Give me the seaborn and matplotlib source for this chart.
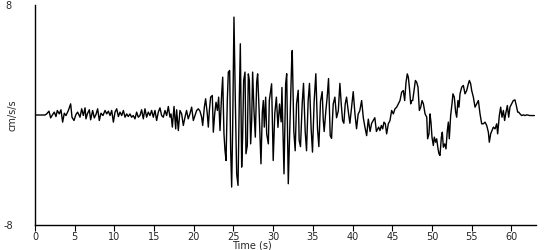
import matplotlib
matplotlib.use("Agg")
import matplotlib.pyplot as plt
import seaborn as sns
import pandas as pd

time_s = [
    0.00, 1.26, 1.47, 1.76, 1.97, 2.23, 2.43, 2.64, 2.81, 3.06, 3.27, 3.48, 3.69, 3.90,
    4.20, 4.49, 4.66, 4.91, 5.16, 5.37, 5.67, 5.88, 6.09, 6.30, 6.42, 6.59, 6.84, 7.01,
    7.26, 7.47, 7.68, 7.89, 8.10, 8.31, 8.56, 8.82, 9.03, 9.24, 9.45, 9.66, 9.87, 10.08,
    10.29, 10.50, 10.71, 10.92, 11.13, 11.34, 11.55, 11.75, 11.96, 12.17, 12.38, 12.59,
    12.80, 13.01, 13.22, 13.43, 13.64, 13.85, 14.06, 14.27, 14.48, 14.69, 14.90, 15.11,
    15.32, 15.53, 15.74, 15.95, 16.16, 16.37, 16.58, 16.79, 17.00, 17.13, 17.30, 17.51,
    17.72, 17.84, 18.05, 18.26,
    18.47, 18.68, 18.89, 19.09, 19.30, 19.51, 19.73, 19.94, 20.15, 20.36, 20.57, 20.78,
    20.99, 21.12, 21.33, 21.49, 21.70, 21.83, 21.96, 22.12, 22.33, 22.46, 22.63, 22.80,
    22.97, 23.13, 23.30, 23.51, 23.64, 23.80, 23.93, 24.06, 24.22, 24.35, 24.52, 24.64,
    24.77, 24.89, 25.06, 25.23, 25.40, 25.57, 25.73, 25.86, 26.03, 26.15, 26.28, 26.45,
    26.57, 26.74, 26.87, 27.00, 27.16, 27.29, 27.41, 27.58, 27.75, 27.92, 28.04, 28.21,
    28.34, 28.46, 28.63, 28.76, 28.88, 29.05, 29.18, 29.39, 29.51,
    29.80, 30.00, 30.20, 30.40, 30.60, 30.80, 31.00, 31.10, 31.36, 31.57, 31.70, 31.90,
    32.10, 32.33, 32.40, 32.60, 32.77, 32.94, 33.15, 33.27, 33.44, 33.65, 33.82, 34.03,
    34.20, 34.40, 34.57, 34.78, 34.95, 35.16, 35.37, 35.58, 35.75, 35.96, 36.17, 36.30,
    36.42, 36.63, 36.80, 36.97, 37.18, 37.35, 37.56, 37.77, 37.98, 38.20, 38.40, 38.57,
    38.74, 38.90, 39.07, 39.24, 39.45, 39.66, 39.87, 40.08, 40.30, 40.50, 40.70, 40.90,
    41.14, 41.35, 41.56, 41.77, 41.98, 42.20, 42.40, 42.60, 42.80, 43.00,
    43.28, 43.45, 43.62, 43.79, 43.95, 44.12, 44.29, 44.50, 44.71,
    44.92, 45.13, 45.34, 45.55, 45.76, 45.97, 46.18, 46.39, 46.56, 46.73, 46.89, 47.02,
    47.15, 47.32, 47.44, 47.57, 47.74, 47.91, 48.07, 48.24, 48.41, 48.58, 48.75, 48.92,
    49.13, 49.34, 49.45, 49.62, 49.75, 49.87, 50.00, 50.17, 50.29, 50.46, 50.59, 50.76,
    50.88, 51.01, 51.18, 51.30, 51.43, 51.60, 51.76, 51.93, 52.06, 52.18, 52.35, 52.52,
    52.64, 52.81, 52.98, 53.11, 53.27, 53.40, 53.53, 53.74, 53.95, 54.16, 54.37, 54.58,
    54.71, 54.87, 55.00, 55.21, 55.42, 55.63, 55.84, 56.05, 56.26, 56.47, 56.68, 56.89,
    57.10, 57.22, 57.39, 57.56, 57.73, 57.94, 58.15, 58.27, 58.48, 58.65, 58.82, 58.99,
    59.15, 59.28, 59.49, 59.66, 59.82, 60.03, 60.24, 60.45, 60.62, 60.79, 60.92, 61.09,
    61.30, 61.51, 61.72, 61.93, 62.34, 62.90,
]

accel_cms2 = [
    0.00, 0.00, 0.08, 0.28, -0.21, 0.04, 0.21, -0.11, 0.33, 0.08, 0.38, -0.52, 0.13, -0.04,
    0.33, 0.81, -0.16, -0.40, 0.04, 0.21, -0.16, 0.45, -0.04, 0.52, -0.28, 0.08, 0.38, -0.35,
    0.33, -0.21, 0.04, 0.45, -0.40, 0.13, -0.04, 0.33, 0.08, 0.28, -0.04, 0.33, -0.52, 0.21,
    0.45, -0.11, 0.21, -0.04, 0.33, -0.16, 0.08, -0.11, 0.08, -0.16, -0.04, -0.28,
    0.21, -0.16, -0.04, 0.38, -0.28, 0.45, -0.16, 0.21, -0.04, 0.33, -0.16, 0.33,
    -0.40, 0.21, 0.52, -0.04, -0.16, 0.33, -0.04, 0.62, -0.16, 0.08, -0.88, 0.62,
    -1.01, 0.38, -1.13, 0.33,
    0.08, -0.76, -0.16, 0.33, -0.28, 0.08, 0.57, -0.40, -0.04, 0.33, 0.45, 0.28,
    -0.16, -0.76, 0.57, 1.18, 0.08, -0.88, 0.33, 1.30, 1.42, -1.25, 0.08, 0.93,
    0.33, 1.30, -1.13, 1.54, 2.75, -1.37, -2.58, -3.31, 1.05, 3.12, 3.24, -2.46,
    -5.24, -1.13, 7.12, 1.05, -4.28, -5.12, 1.05, 5.18, -3.79, -1.61, 2.51, 3.12,
    -2.82, -2.22, 2.99, 2.51, -2.10, -0.40, 3.12, 0.33, -1.61, 2.39, 2.99, 0.57,
    -1.61, -3.55, 0.21, 1.05, -0.88, 1.30, -1.37, -2.10, 1.05,
    2.27, -3.31, 0.10, 1.30, -0.90, 0.80, -0.50, 2.00, -4.28, 2.27, 3.00, -5.00,
    -0.90, 3.96, 4.69, -1.20, -2.60, 0.80, 1.80, -1.85, -2.30, 0.80, 2.30, -1.20,
    -2.60, 1.00, 2.30, -1.00, -2.70, 1.00, 3.00, -1.00, -2.30, 1.00, 1.70, -0.30,
    -1.20, 0.30, 1.30, 2.65, -1.50, -1.70, 0.80, 1.30, -0.20, 0.30, 2.30, 0.80,
    -0.40, -0.60, 0.80, 1.30, 0.30, -0.60, 0.55, 1.70, 0.06, -1.00, 0.06, 0.30,
    1.05, -0.20, -0.90, -1.50, -0.30, -1.20, -0.60, -0.40, -0.20, -1.20,
    -0.88, -1.13, -0.76, -1.01, -0.52, -0.64, -1.37, -0.64, -0.40,
    0.33, 0.08, 0.45, 0.57, 0.81, 1.05, 1.66, 1.78, 1.05, 2.39, 2.99, 2.75,
    2.02, 0.81, 1.05, 1.05, 1.78, 2.51, 2.39, 2.02, 0.33, 0.57, 1.05, 0.81,
    0.08, -0.16, -1.73, -1.37, 0.08, -0.52, -1.61, -2.22, -1.61, -1.98, -1.73, -2.46,
    -2.82, -2.94, -1.61, -1.25, -2.34, -2.10, -2.46, -1.13, -0.52, -1.73, -0.04, 0.81,
    1.54, 1.30, 0.21, -0.16, 1.05, 0.57, 1.54, 2.02, 2.15, 1.54, 1.78, 2.27,
    2.51, 2.27, 1.78, 1.30, 0.57, 0.81, 1.05, 0.08, -0.64, -0.64, -0.52, -0.76,
    -1.25, -1.98, -1.37, -1.13, -0.88, -1.01, -0.64, -1.37, -0.04, 0.57, -0.16, 0.33,
    -0.40, 0.08, 0.69, -0.16, 0.57, 0.81, 1.05, 1.10, 0.69, 0.21, 0.21, 0.08,
    -0.04, 0.01, -0.04, 0.01, -0.04, -0.04,
]

x_ticks = [0, 5, 10, 15, 20, 25, 30, 35, 40, 45, 50, 55, 60]
y_ticks = [-8, 8]
x_label = "Time (s)"
y_label = "cm/s/s"

df = pd.DataFrame({"t": time_s, "a": accel_cms2})

sns.set_theme(style="white")
plt.rcParams["font.family"] = ["DejaVu Sans"]

fig = plt.figure(figsize=(5.5, 2.5), dpi=100)
ax = fig.add_axes([35 / 550, 1 - 225 / 250, (536 - 35) / 550, (225 - 5) / 250])

sns.lineplot(data=df, x="t", y="a", ax=ax, color="black", linewidth=1.0,
             estimator=None, sort=False)

ax.set_xlim(0, 63.1)
ax.set_ylim(-8, 8)
ax.set_xticks(x_ticks)
ax.set_xticklabels([str(v) for v in x_ticks], fontsize=7)
ax.set_yticks(y_ticks)
ax.set_yticklabels([str(v) for v in y_ticks], fontsize=7)
ax.tick_params(axis="x", direction="out", length=4, width=0.8, color="black", pad=1,
               bottom=True)
ax.tick_params(axis="y", length=0, pad=19)
for lbl in ax.get_yticklabels():
    lbl.set_horizontalalignment("center")

ax.set_xlabel(x_label, fontsize=7)
ax.set_ylabel(y_label, fontsize=7)
ax.xaxis.set_label_coords((252 - 35) / 501, -0.07)
ax.yaxis.set_label_coords(-17 / 501, 0.5)

for side in ["top", "right"]:
    ax.spines[side].set_visible(False)
for side in ["left", "bottom"]:
    ax.spines[side].set_color("black")
    ax.spines[side].set_linewidth(1.0)
ax.grid(False)

fig.savefig("out.png", dpi=100, facecolor="white")
